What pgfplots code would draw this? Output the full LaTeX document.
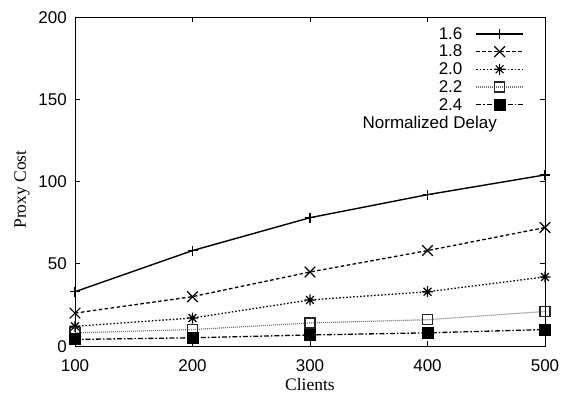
\documentclass[border=0pt]{standalone}
\usepackage{pgfplots}
\pgfplotsset{compat=1.18}
\usepackage{fontspec}
\setmainfont{Liberation Serif}
\newfontfamily\sansf{Liberation Sans}
\newcommand\lstrut{\rule[-5.1pt]{0pt}{17.3pt}}
\makeatletter
\pgfdeclareplotmark{gpstar}{%
  \pgfpathmoveto{\pgfqpoint{-\pgfplotmarksize}{0pt}}%
  \pgfpathlineto{\pgfqpoint{\pgfplotmarksize}{0pt}}%
  \pgfpathmoveto{\pgfqpoint{0pt}{-\pgfplotmarksize}}%
  \pgfpathlineto{\pgfqpoint{0pt}{\pgfplotmarksize}}%
  \pgfpathmoveto{\pgfqpoint{-.7071\pgfplotmarksize}{-.7071\pgfplotmarksize}}%
  \pgfpathlineto{\pgfqpoint{.7071\pgfplotmarksize}{.7071\pgfplotmarksize}}%
  \pgfpathmoveto{\pgfqpoint{-.7071\pgfplotmarksize}{.7071\pgfplotmarksize}}%
  \pgfpathlineto{\pgfqpoint{.7071\pgfplotmarksize}{-.7071\pgfplotmarksize}}%
  \pgfusepathqstroke}
\makeatother
\begin{document}
\begin{tikzpicture}
\begin{axis}[
  scale only axis,
  width=470pt, height=329pt,
  xmin=100, xmax=500, ymin=0, ymax=200,
  xtick={100,200,300,400,500},
  ytick={0,50,100,150,200},
  /pgf/number format/assume math mode=true,
  /pgf/number format/1000 sep={},
  tick label style={font=\sansf\fontsize{17}{20}\selectfont, inner sep=0pt, text height=12pt, text depth=0pt},
  xticklabel style={yshift=-13pt},
  yticklabel style={xshift=-8pt},
  major tick length=5pt,
  tick style={black, line width=0.8pt},
  axis line style={black, line width=0.8pt},
  xlabel={Clients},
  ylabel={Proxy Cost},
  label style={font=\fontsize{17.5}{20}\selectfont},
  xlabel style={at={(axis description cs:0.5,0)}, anchor=center, yshift=-39pt},
  ylabel style={at={([shift={(-53pt,-8pt)}]axis description cs:0,0.5)}, anchor=center},
  legend image code/.code={\draw[mark repeat=2,mark phase=2,#1] plot coordinates {(0pt,0pt) (23.5pt,0pt) (47pt,0pt)};},
  legend plot pos=right,
  legend cell align=right,
  legend style={draw=none, fill=none, at={([shift={(-21pt,-7.8pt)}]rel axis cs:1,1)}, anchor=north east,
    inner sep=0pt, row sep=0pt, column sep=11pt,
    font=\sansf\fontsize{17}{20}\selectfont},
]
\addplot[black, line width=1.4pt, mark=+, mark size=5pt, mark options={solid, line width=1.2pt}]
  coordinates {(100,33) (200,58) (300,78) (400,92) (500,104)};
\addlegendentry{\lstrut 1.6}
\addplot[black, line width=1.3pt, dash pattern=on 3.5pt off 2.5pt, mark=x, mark size=7.5pt, mark options={solid, line width=1.2pt}]
  coordinates {(100,20) (200,30) (300,45) (400,58) (500,72)};
\addlegendentry{\lstrut 1.8}
\addplot[black, line width=1.3pt, dash pattern=on 1.5pt off 2pt, mark=gpstar, mark size=5.5pt, mark options={solid, line width=1.2pt}]
  coordinates {(100,12) (200,17) (300,28) (400,33) (500,42)};
\addlegendentry{\lstrut 2.0}
\addplot[black!55, line width=1.2pt, dash pattern=on 1pt off 1pt, mark=square, mark size=5pt, mark options={solid, black!85, line width=1.2pt}]
  coordinates {(100,8) (200,10) (300,14) (400,16) (500,21)};
\addlegendentry{\lstrut 2.2}
\addplot[black, line width=1.3pt, dash pattern=on 5pt off 2pt on 1.5pt off 2pt, mark=square*, mark size=5.5pt, mark options={solid, line width=0pt}]
  coordinates {(100,4) (200,5) (300,6.7) (400,8) (500,10)};
\addlegendentry{\lstrut 2.4}
\node[anchor=east, inner sep=0pt, font=\sansf\fontsize{17}{20}\selectfont, text height=12.4pt, text depth=0pt, yshift=-6.2pt]
  at ([shift={(-48pt,-99pt)}]rel axis cs:1,1) {Normalized Delay};
\end{axis}
\pgfresetboundingbox
\path ([shift={(-75pt,-53pt)}]current axis.south west) rectangle ([shift={(16pt,17pt)}]current axis.north east);
\end{tikzpicture}
\end{document}
